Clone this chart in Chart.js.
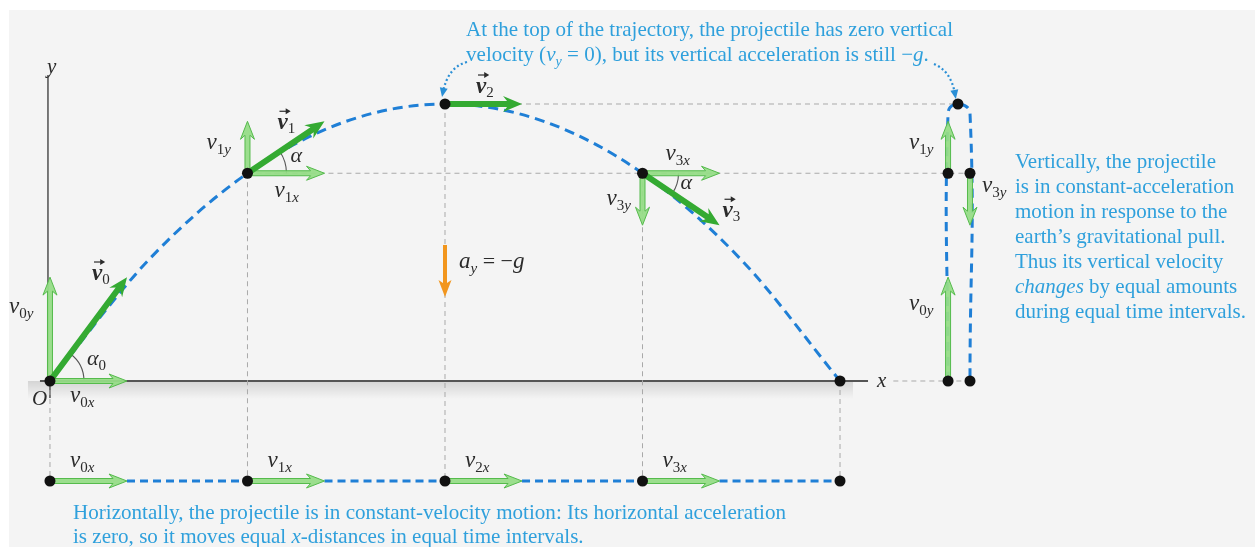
<!DOCTYPE html>
<html lang="en">
<head>
<meta charset="UTF-8">
<title>Projectile motion</title>
<script src="https://cdn.jsdelivr.net/npm/chart.js"></script>
<style>
  html, body { margin: 0; padding: 0; background: #fff; }
  #wrap { width: 1255px; height: 547px; }
</style>
</head>
<body>
<div id="wrap"><canvas id="motionChart" width="1255" height="547"></canvas></div>
<script>
// equal time steps t = 0..4 (grid units)
const steps = [0, 1, 2, 3, 4];
const heights = [0, 3, 4, 3, 0];
// velocity components at the first four points
const velX = [0.39, 0.39, 0.39, 0.39];
const velY = [1.5, 0.75, 0, -0.75];
// dashed trajectory
const pathX = [0, 0.5, 1, 1.5, 2, 2.5, 3, 3.5, 4];
const pathY = [0, 1.75, 3, 3.75, 4, 3.75, 3, 1.75, 0];
// vertical-only motion on the right (up column, cap, down column)
const colX = [4.547, 4.547, 4.597, 4.658, 4.658];
const colY = [0, 3.87, 4, 3.87, 0];
// horizontal-only motion row
const rowY = -1.444;
// change of vertical velocity per step (a_y = -g)
const gravityStep = 0.75;

const SERIF = '"Liberation Serif", "Times New Roman", serif';
const BLUE = '#1f7fd6';
const NOTE = '#2fa0dc';
const INK = '#2b2b2b';

const riseX = colX[0], fallX = colX[4], peakX = colX[2];

// gray guide lines
const guidePts = [];
steps.forEach((s, i) => {
    guidePts.push({ x: s, y: heights[i] }, { x: s, y: rowY }, { x: null, y: null });
});
guidePts.push({ x: steps[2], y: heights[2] }, { x: peakX, y: heights[2] }, { x: null, y: null });
guidePts.push({ x: steps[1], y: heights[1] }, { x: fallX, y: heights[1] }, { x: null, y: null });
guidePts.push({ x: 4.27, y: 0 }, { x: fallX, y: 0 });

// blue dashes on the bottom row, from each arrow tip to the next point
const rowPts = [];
for (let i = 0; i < 4; i++) {
    rowPts.push({ x: steps[i] + velX[i], y: rowY }, { x: steps[i + 1], y: rowY }, { x: null, y: null });
}

const dotPts = [];
steps.forEach((s, i) => dotPts.push({ x: s, y: heights[i] }, { x: s, y: rowY }));
colX.forEach((x, i) => { if (i !== 1 && i !== 3) dotPts.push({ x: x, y: colY[i] }); });
dotPts.push({ x: riseX, y: heights[1] }, { x: fallX, y: heights[3] });

function arrow(ctx, x1, y1, x2, y2, o) {
    const dx = x2 - x1, dy = y2 - y1, len = Math.hypot(dx, dy);
    const ux = dx / len, uy = dy / len, nx = -uy, ny = ux;
    const sw = o.shaft / 2, hw = o.headW, nt = o.notch || 0;
    const bx = x2 - ux * o.head, by = y2 - uy * o.head;
    ctx.beginPath();
    ctx.moveTo(x1 + nx * sw, y1 + ny * sw);
    ctx.lineTo(bx + ux * nt + nx * sw, by + uy * nt + ny * sw);
    ctx.lineTo(bx + nx * hw, by + ny * hw);
    ctx.lineTo(x2, y2);
    ctx.lineTo(bx - nx * hw, by - ny * hw);
    ctx.lineTo(bx + ux * nt - nx * sw, by + uy * nt - ny * sw);
    ctx.lineTo(x1 - nx * sw, y1 - ny * sw);
    ctx.closePath();
    ctx.fillStyle = o.fill;
    ctx.fill();
    if (o.stroke) {
        ctx.strokeStyle = o.stroke;
        ctx.lineWidth = 1;
        ctx.stroke();
    }
}
const LIGHT = { shaft: 5, head: 18, headW: 7, notch: 4, fill: 'rgba(150,220,135,0.95)', stroke: '#55bb4c' };
const DARK = { shaft: 6, head: 19, headW: 8, notch: 4, fill: '#34aa32' };
const ORANGE = { shaft: 4, head: 17, headW: 6.5, notch: 3, fill: '#f2961d' };

// draw text pieces one after another, optionally squeezed by k
function runs(ctx, parts, x, y, k) {
    ctx.save();
    ctx.translate(x, y);
    ctx.scale(k || 1, 1);
    let cx = 0;
    parts.forEach(p => {
        ctx.font = p[1];
        ctx.fillText(p[0], cx, p[2] || 0);
        cx += ctx.measureText(p[0]).width;
    });
    ctx.restore();
}
function runsWidth(ctx, parts) {
    let w = 0;
    parts.forEach(p => { ctx.font = p[1]; w += ctx.measureText(p[0]).width; });
    return w;
}
function comp(ctx, x, y, sub) {
    const parts = [['v', 'italic 23px ' + SERIF, 0]];
    for (const ch of sub) parts.push([ch, (/\d/.test(ch) ? '' : 'italic ') + '15px ' + SERIF, 5]);
    runs(ctx, parts, x, y);
}
function vec(ctx, x, y, sub) {
    ctx.font = 'bold italic 23px ' + SERIF;
    const w = ctx.measureText('v').width;
    runs(ctx, [['v', 'bold italic 23px ' + SERIF, 0], [sub, '15px ' + SERIF, 4]], x, y);
    ctx.save();
    ctx.strokeStyle = ctx.fillStyle;
    ctx.lineWidth = 1.2;
    ctx.beginPath();
    ctx.moveTo(x + 2, y - 18);
    ctx.lineTo(x + w + 1, y - 18);
    ctx.stroke();
    ctx.beginPath();
    ctx.moveTo(x + w + 3, y - 18);
    ctx.lineTo(x + w - 2, y - 21);
    ctx.lineTo(x + w - 2, y - 15);
    ctx.closePath();
    ctx.fill();
    ctx.restore();
}
function dottedArrow(ctx, x1, y1, cx, cy, x2, y2) {
    ctx.save();
    ctx.strokeStyle = '#2a8fd6';
    ctx.fillStyle = '#2a8fd6';
    ctx.lineWidth = 2.2;
    ctx.setLineDash([2, 2.5]);
    ctx.beginPath();
    ctx.moveTo(x1, y1);
    ctx.quadraticCurveTo(cx, cy, x2, y2);
    ctx.stroke();
    ctx.setLineDash([]);
    const a = Math.atan2(y2 - cy, x2 - cx);
    const tx = x2 + Math.cos(a) * 5, ty = y2 + Math.sin(a) * 5;
    ctx.beginPath();
    ctx.moveTo(tx, ty);
    ctx.lineTo(tx - Math.cos(a) * 9 + Math.sin(a) * 4, ty - Math.sin(a) * 9 - Math.cos(a) * 4);
    ctx.lineTo(tx - Math.cos(a) * 9 - Math.sin(a) * 4, ty - Math.sin(a) * 9 + Math.cos(a) * 4);
    ctx.closePath();
    ctx.fill();
    ctx.restore();
}

const scenePlugin = {
    id: 'scene',
    beforeDraw(chart) {
        const ctx = chart.ctx;
        ctx.save();
        ctx.fillStyle = '#ffffff';
        ctx.fillRect(0, 0, chart.width, chart.height);
        ctx.fillStyle = '#f4f4f4';
        ctx.fillRect(9, 10, chart.width - 9, chart.height - 10);
        ctx.restore();
    },
    beforeDatasetsDraw(chart) {
        const ctx = chart.ctx, X = v => chart.scales.x.getPixelForValue(v), Y = v => chart.scales.y.getPixelForValue(v);
        const ox = X(0), oy = Y(0);
        ctx.save();
        // ground shadow
        const g = ctx.createLinearGradient(0, oy, 0, oy + 18);
        g.addColorStop(0, 'rgba(0,0,0,0.13)');
        g.addColorStop(1, 'rgba(0,0,0,0)');
        ctx.fillStyle = g;
        ctx.fillRect(ox - 22, oy, X(4) + 13 - (ox - 22), 18);
        // x axis
        ctx.strokeStyle = '#555';
        ctx.lineWidth = 1.8;
        ctx.beginPath();
        ctx.moveTo(ox - 10, oy);
        ctx.lineTo(X(4) + 28, oy);
        ctx.stroke();
        // y axis
        ctx.lineWidth = 1.4;
        ctx.strokeStyle = '#444';
        ctx.beginPath();
        ctx.moveTo(ox - 2, Y(4.42));
        ctx.lineTo(ox - 2, oy);
        ctx.moveTo(ox, oy);
        ctx.lineTo(ox, oy + 17);
        ctx.stroke();
        ctx.restore();
    },
    beforeDatasetDraw(chart, args) {
        if (args.meta.label !== 'dots') return;
        const ctx = chart.ctx, X = v => chart.scales.x.getPixelForValue(v), Y = v => chart.scales.y.getPixelForValue(v);
        ctx.save();
        for (let i = 0; i < 4; i++) {
            const px = X(steps[i]), py = Y(heights[i]);
            const tx = X(steps[i] + velX[i]), ty = Y(heights[i] + velY[i]);
            // angle arcs
            if (velY[i] !== 0) {
                const a = Math.atan2(ty - py, tx - px);
                const r = [34, 39, 0, 36][i];
                ctx.strokeStyle = '#555';
                ctx.lineWidth = 1.1;
                ctx.beginPath();
                if (a < 0) ctx.arc(px, py, r, a, 0); else ctx.arc(px, py, r, 0, a);
                ctx.stroke();
                arrow(ctx, px, py, tx, py, LIGHT);
                arrow(ctx, px, py, px, ty, LIGHT);
            }
            arrow(ctx, px, py, tx, ty, DARK);
            // bottom row
            arrow(ctx, px, Y(rowY), tx, Y(rowY), LIGHT);
            // right columns
            if (velY[i] > 0) arrow(ctx, X(riseX), py, X(riseX), ty, LIGHT);
            if (velY[i] < 0) arrow(ctx, X(fallX), py, X(fallX), ty, LIGHT);
        }
        // gravity arrow
        arrow(ctx, X(steps[2]), Y(1.964), X(steps[2]), Y(1.964 - gravityStep), ORANGE);
        ctx.restore();
    },
    afterDatasetsDraw(chart) {
        const ctx = chart.ctx, X = v => chart.scales.x.getPixelForValue(v), Y = v => chart.scales.y.getPixelForValue(v);
        const P = i => ({ x: X(steps[i]), y: Y(heights[i]) });
        ctx.save();
        ctx.fillStyle = INK;
        ctx.textBaseline = 'alphabetic';
        const p0 = P(0), p1 = P(1), p2 = P(2), p3 = P(3), p4 = P(4);

        ctx.font = 'italic 21px ' + SERIF;
        ctx.fillText('y', 47, 73);
        ctx.fillText('O', p0.x - 18, p0.y + 24);
        ctx.fillText('x', p4.x + 37, p4.y + 6);

        comp(ctx, p0.x - 41, p0.y - 68, '0y');
        vec(ctx, p0.x + 42, p0.y - 101, '0');
        runs(ctx, [['\u03b1', 'italic 22px ' + SERIF, 0], ['0', '15px ' + SERIF, 5]], p0.x + 37, p0.y - 16);
        comp(ctx, p0.x + 20, p0.y + 21, '0x');

        comp(ctx, p1.x - 41, p1.y - 24, '1y');
        vec(ctx, p1.x + 30, p1.y - 44, '1');
        runs(ctx, [['\u03b1', 'italic 22px ' + SERIF, 0]], p1.x + 43, p1.y - 11);
        comp(ctx, p1.x + 27, p1.y + 24, '1x');

        vec(ctx, p2.x + 31, p2.y - 11, '2');

        comp(ctx, p3.x + 23, p3.y - 13, '3x');
        comp(ctx, p3.x - 36, p3.y + 32, '3y');
        runs(ctx, [['\u03b1', 'italic 22px ' + SERIF, 0]], p3.x + 38, p3.y + 16);
        vec(ctx, p3.x + 80, p3.y + 44, '3');

        // right columns
        comp(ctx, X(riseX) - 39, Y(heights[1]) - 24, '1y');
        comp(ctx, X(fallX) + 12, Y(heights[3]) + 19, '3y');
        comp(ctx, X(riseX) - 39, Y(0) - 71, '0y');

        // bottom row
        for (let i = 0; i < 4; i++) comp(ctx, X(steps[i]) + 20, Y(rowY) - 14, i + 'x');

        // a_y = -g
        runs(ctx, [['a', 'italic 23px ' + SERIF, 0], ['y', 'italic 15px ' + SERIF, 5],
            [' = \u2212', '22px ' + SERIF, 0], ['g', 'italic 23px ' + SERIF, 0]],
            p2.x + 14, Y(1.964) + 23);

        // notes
        ctx.fillStyle = NOTE;
        const top1 = [['At the top of the trajectory, the projectile has zero vertical', '21px ' + SERIF, 0]];
        const top2 = [['velocity (', '21px ' + SERIF, 0], ['v', 'italic 21px ' + SERIF, 0], ['y', 'italic 14px ' + SERIF, 5],
            [' = 0), but its vertical acceleration is still \u2212', '21px ' + SERIF, 0], ['g', 'italic 21px ' + SERIF, 0], ['.', '21px ' + SERIF, 0]];
        const kTop = 487 / runsWidth(ctx, top1);
        runs(ctx, top1, 466, 36, kTop);
        runs(ctx, top2, 466, 61, kTop);

        const right = [
            [['Vertically, the projectile', '21px ' + SERIF, 0]],
            [['is in constant-acceleration', '21px ' + SERIF, 0]],
            [['motion in response to the', '21px ' + SERIF, 0]],
            [['earth\u2019s gravitational pull.', '21px ' + SERIF, 0]],
            [['Thus its vertical velocity', '21px ' + SERIF, 0]],
            [['changes', 'italic 21px ' + SERIF, 0], [' by equal amounts', '21px ' + SERIF, 0]],
            [['during equal time intervals.', '21px ' + SERIF, 0]]
        ];
        right.forEach((line, i) => runs(ctx, line, 1015, 168 + 25 * i, 1));

        const bot1 = [['Horizontally, the projectile is in constant-velocity motion: Its horizontal acceleration', '21px ' + SERIF, 0]];
        const bot2 = [['is zero, so it moves equal ', '21px ' + SERIF, 0], ['x', 'italic 21px ' + SERIF, 0],
            ['-distances in equal time intervals.', '21px ' + SERIF, 0]];
        const kBot = 713 / runsWidth(ctx, bot1);
        runs(ctx, bot1, 73, 519, kBot);
        runs(ctx, bot2, 73, 543, kBot);

        dottedArrow(ctx, 467, 62, 448, 67, 443, 92);
        dottedArrow(ctx, 934, 64, 951, 71, 955, 94);
        ctx.restore();
    }
};

new Chart(document.getElementById('motionChart'), {
    type: 'scatter',
    data: {
        datasets: [
            {
                label: 'dots',
                data: dotPts,
                order: 0,
                showLine: false,
                pointRadius: 5.5,
                pointBackgroundColor: '#111',
                pointBorderWidth: 0
            },
            {
                label: 'row',
                data: rowPts,
                order: 1,
                showLine: true,
                borderColor: BLUE,
                borderWidth: 3,
                borderDash: [8, 5],
                pointRadius: 0
            },
            {
                label: 'column',
                data: colX.map((x, i) => ({ x: x, y: colY[i] })),
                order: 2,
                showLine: true,
                borderColor: BLUE,
                borderWidth: 3,
                borderDash: [9, 6],
                tension: 0.45,
                pointRadius: 0
            },
            {
                label: 'trajectory',
                data: pathX.map((x, i) => ({ x: x, y: pathY[i] })),
                order: 3,
                showLine: true,
                borderColor: BLUE,
                borderWidth: 3,
                borderDash: [10, 6],
                cubicInterpolationMode: 'monotone',
                pointRadius: 0
            },
            {
                label: 'guides',
                data: guidePts,
                order: 4,
                showLine: true,
                borderColor: '#a9a9a9',
                borderWidth: 1,
                borderDash: [5, 4],
                pointRadius: 0
            }
        ]
    },
    options: {
        responsive: false,
        animation: false,
        events: [],
        layout: { padding: 0, autoPadding: false },
        plugins: { legend: { display: false }, tooltip: { enabled: false } },
        scales: {
            x: { type: 'linear', min: -0.253, max: 6.101, display: false },
            y: { type: 'linear', min: -2.397, max: 5.502, display: false }
        }
    },
    plugins: [scenePlugin]
});
</script>
</body>
</html>
